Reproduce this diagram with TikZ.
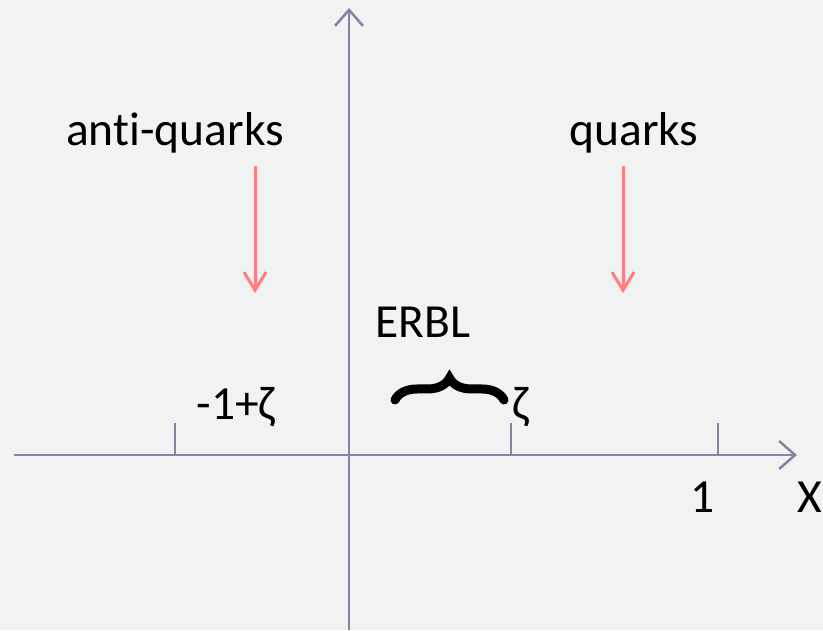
\documentclass[tikz,border=0pt]{standalone}
\usepackage{fontspec}
\setmainfont{Carlito}[Ligatures={NoCommon}]
\usetikzlibrary{arrows.meta,decorations.pathreplacing}
\definecolor{axiscol}{RGB}{138,128,168}
\definecolor{arrcol}{RGB}{255,124,128}
\definecolor{bgcol}{RGB}{242,242,242}
\tikzset{
  axisline/.style={draw=axiscol,line width=2.5pt,-{Straight Barb[length=16pt,width=28pt,line width=2.5pt]}},
  tickline/.style={draw=axiscol,line width=2.5pt},
  pinkarrow/.style={draw=arrcol,line width=3pt,-{Straight Barb[length=18pt,width=22pt,line width=3pt]}},
  lbl/.style={inner sep=0pt,anchor=base,font=\fontsize{47.5}{56}\selectfont,text=black}
}
\begin{document}
\begin{tikzpicture}[x=1pt,y=1pt]
\fill[bgcol] (0,0) rectangle (823,630);
\useasboundingbox (0,0) rectangle (823,630);
% axes
\coordinate (xa) at (14,175);
\coordinate (xb) at (797,175);
\coordinate (ya) at (349,0);
\coordinate (yb) at (349,622);
\draw[axisline] (xa) -- (xb);
\draw[axisline] (ya) -- (yb);
% ticks
\coordinate (t1a) at (175,175); \coordinate (t1b) at (175,207);
\coordinate (t2a) at (511,175); \coordinate (t2b) at (511,207);
\coordinate (t3a) at (718,175); \coordinate (t3b) at (718,207);
\draw[tickline] (t1a) -- (t1b);
\draw[tickline] (t2a) -- (t2b);
\draw[tickline] (t3a) -- (t3b);
% labels
\node[lbl] (aq) at (175,484) {anti-quarks};
\node[lbl] (q) at (634,484) {quarks};
\node[lbl] (erbl) at (423,292) {ERBL};
\node[lbl] (mz) at (236,210) {-1+ζ};
\node[lbl] (z) at (521,210) {ζ};
\node[lbl] (one) at (703,117) {1};
\node[lbl] (X) at (810,117) {X};
% pink arrows
\coordinate (a1a) at (255,464); \coordinate (a1b) at (255,337);
\coordinate (a2a) at (623,464); \coordinate (a2b) at (623,337);
\draw[pinkarrow] (a1a) -- (a1b);
\draw[pinkarrow] (a2a) -- (a2b);
% brace
\coordinate (ba) at (395,230);
\coordinate (bb) at (504,230);
\draw[line width=9pt,line cap=round,decorate,decoration={brace,amplitude=22pt}] (ba) -- (bb);
\end{tikzpicture}
\end{document}
